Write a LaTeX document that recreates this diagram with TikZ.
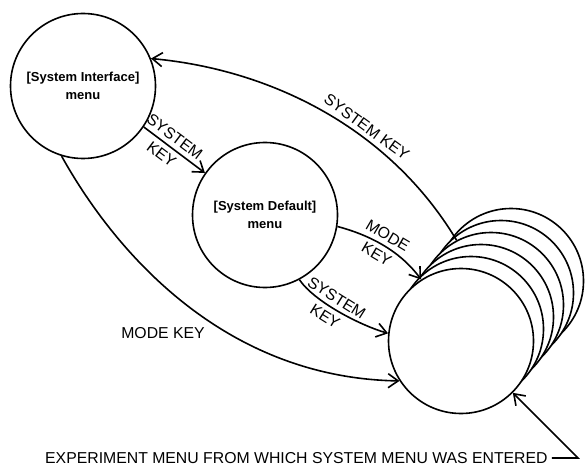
\documentclass[tikz,border=0pt]{standalone}
\usepackage{fontspec}
\setmainfont{Liberation Sans}
\usepackage{tikz}
\usetikzlibrary{arrows.meta, positioning}
\tikzstyle{menu} = [circle, minimum size=145pt, inner sep=0pt, draw=black, line width=1.6pt, fill=white, align=center, font=\bfseries\fontsize{13}{18}\selectfont]
\tikzstyle{arrow} = [line width=1.6pt, -{Straight Barb[length=10pt, width=14pt]}]
\tikzstyle{keylabel} = [font=\fontsize{15.8}{15.8}\selectfont, align=center, inner sep=1pt]

\begin{document}
\begin{tikzpicture}[x=1pt, y=-1pt]
      \useasboundingbox (0,0) rectangle (585,470);

      % Nodes
      \node (iface) [menu] at (83,86) {[System Interface]\\menu};
      \node (default) [menu] at (265,215) {[System Default]\\menu};
      \foreach \k in {5,...,1}
        \node (stack\k) [menu] at ({461+10*\k},{341-12*\k}) {};
      \node (expmenu) [menu] at (461,341) {};

      \node (modekey) [keylabel] at (163,333) {MODE KEY};
      \node (entered) [keylabel, anchor=west, inner sep=4pt] at (41,458) {EXPERIMENT MENU FROM WHICH SYSTEM MENU WAS ENTERED};
      \coordinate (corner) at (578,458);

      % Arrows
      \draw [arrow] (stack3.118) .. controls +(-67,-112) and +(120,11) .. node [keylabel, pos=0.38, sloped, above=3pt] {SYSTEM KEY} (iface.22);
      \draw [arrow] (iface.-34) -- node [keylabel, pos=0.4, sloped] {SYSTEM\\[6pt]KEY} (default.145);
      \draw [arrow] (default.-9) .. controls +(30,8) and +(-22,-30) .. node [keylabel, pos=0.5, sloped] {MODE\\[6pt]KEY} (expmenu.123);
      \draw [arrow] (default.-62) .. controls +(15,22) and +(-28,-8) .. node [keylabel, pos=0.42, sloped] {SYSTEM\\[6pt]KEY} (expmenu.174);
      \draw [arrow] (iface.253) .. controls +(58,104) and +(-170,-3) .. (expmenu.213);
      \draw [arrow] (entered.east) -- (corner) -- (expmenu.-45);

\end{tikzpicture}
\end{document}
